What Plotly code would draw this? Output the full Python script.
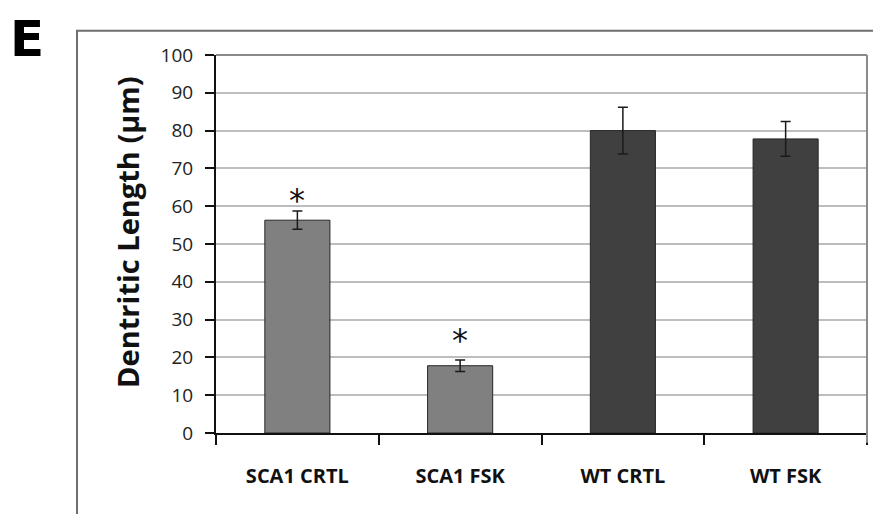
import plotly.graph_objects as go

categories = ["SCA1 CRTL", "SCA1 FSK", "WT CRTL", "WT FSK"]
values = [56.3, 17.8, 80.0, 77.8]
errors = [2.4, 1.5, 6.2, 4.6]
bar_colors = ["#808080", "#808080", "#404040", "#404040"]
star_categories = ["SCA1 CRTL", "SCA1 FSK"]
star_heights = [63.4, 26.4]
y_ticks = list(range(0, 101, 10))

FONT = "Open Sans"

fig = go.Figure()
fig.add_trace(go.Bar(
    x=categories, y=values,
    marker=dict(color=bar_colors, line=dict(color="#262626", width=1)),
    error_y=dict(type="data", array=errors, visible=True,
                 color="#1a1a1a", thickness=1.5, width=5),
    showlegend=False,
))

annotations = []
for c, h in zip(star_categories, star_heights):
    annotations.append(dict(x=c, y=h, xref="x", yref="y", text="*",
                            showarrow=False, font=dict(family="DejaVu Sans", size=32, color="#111"),
                            yanchor="middle", yshift=-7))

annotations.append(dict(x=-0.1352, y=0.532, xref="paper", yref="paper",
                        text="<b>Dentritic Length (µm)</b>", textangle=-90,
                        showarrow=False, xanchor="center", yanchor="middle",
                        font=dict(family=FONT, size=29, color="#111")))
annotations.append(dict(x=-0.3180, y=1.1230, xref="paper", yref="paper",
                        text="<b>E</b>", showarrow=False, xanchor="left", yanchor="top",
                        borderpad=0,
                        font=dict(family="DejaVu Sans", size=50, color="#000")))

shapes = [
    dict(type="path", xref="paper", yref="paper",
         path="M -0.2135,-0.3 L -0.2135,1.0643 L 1.05,1.0643",
         line=dict(color="#6e6e6e", width=2)),
    dict(type="line", xref="paper", yref="paper", x0=0, x1=1, y0=1, y1=1,
         line=dict(color="#8a8a8a", width=2)),
    dict(type="line", xref="paper", yref="paper", x0=1, x1=1, y0=1, y1=-0.026,
         line=dict(color="#8a8a8a", width=2)),
]

fig.update_layout(
    width=873, height=506,
    margin=dict(l=208, r=14, t=47, b=81),
    plot_bgcolor="white", paper_bgcolor="white",
    bargap=0.6,
    font=dict(family=FONT, color="#111"),
    annotations=annotations,
    shapes=shapes,
    xaxis=dict(
        type="category", tickson="boundaries", ticks="outside", ticklen=10,
        tickcolor="#111", tickwidth=1.5, showline=True, linecolor="#111", linewidth=2,
        showgrid=False, tickfont=dict(family=FONT, size=20, color="#111"),
        tickprefix="<b>", ticksuffix="</b>", ticklabelstandoff=24,
        range=[-0.5, 3.5],
    ),
    yaxis=dict(
        range=[0, 100], tickvals=y_ticks, ticks="outside", ticklen=9,
        tickcolor="#111", tickwidth=1.5, showline=True, linecolor="#111", linewidth=2,
        showgrid=True, gridcolor="#bdbdbd", gridwidth=1.5, zeroline=False,
        tickfont=dict(family=FONT, size=19, color="#222"), ticklabelstandoff=8,
    ),
)

fig.write_html("out.html")
